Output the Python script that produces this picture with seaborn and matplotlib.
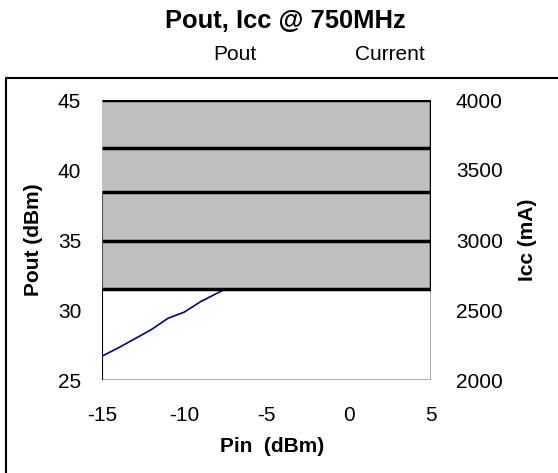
import numpy as np
import pandas as pd
import matplotlib
matplotlib.use("Agg")
import matplotlib.pyplot as plt
import seaborn as sns
from matplotlib.lines import Line2D
from matplotlib.patches import Rectangle

sns.set_style("white")
plt.rcParams["font.family"] = ["Liberation Sans", "DejaVu Sans"]
plt.rcParams["axes.unicode_minus"] = False
plt.rcParams["text.color"] = "black"
plt.rcParams["axes.labelcolor"] = "black"
plt.rcParams["xtick.color"] = "black"
plt.rcParams["ytick.color"] = "black"

# data
pin_dbm = [-15, -14, -13, -12, -11, -10, -9, -8, -7.5]
pout_dbm = [26.7, 27.3, 27.95, 28.6, 29.4, 29.85, 30.6, 31.2, 31.5]
pout_ticks = [25, 30, 35, 40, 45]
icc_ticks = [2000, 2500, 3000, 3500, 4000]
pin_ticks = [-15, -10, -5, 0, 5]
band_levels = [31.5, 34.95, 38.4, 41.6, 45]   # black rules over the grey block

FS = 15

df = pd.DataFrame({"Pin": pin_dbm, "Pout": pout_dbm})

fig = plt.figure(figsize=(5.58, 4.73), dpi=100)
ax = fig.add_axes([102 / 558, 1 - 380 / 473, 329 / 558, 280 / 473])

sns.lineplot(data=df, x="Pin", y="Pout", ax=ax, color="#000080", linewidth=1.2, zorder=2)

# grey block with black rules
ax.fill_between([pin_ticks[0], pin_ticks[-1]], band_levels[0], band_levels[-1],
                color="#c0c0c0", zorder=3, linewidth=0)
ax.hlines(band_levels, pin_ticks[0], pin_ticks[-1], color="black", linewidth=2.5, zorder=4)
ax.vlines(pin_ticks[-1], band_levels[0], band_levels[-1], color="black", linewidth=2.5, zorder=4)

# frame lines
ax.hlines(pout_ticks[0], pin_ticks[0], pin_ticks[-1], color="#a0a0a0", linewidth=1.2, zorder=1)
ax.vlines(pin_ticks[-1], pout_ticks[0], band_levels[0], color="#a0a0a0", linewidth=1.2, zorder=1)
ax.vlines(pin_ticks[0], pout_ticks[0], band_levels[0], color="black", linewidth=1.5, zorder=5)
ax.vlines(pin_ticks[0], band_levels[0], band_levels[2], color="#505050", linewidth=1.5, zorder=5)

ax.set_xlim(pin_ticks[0], pin_ticks[-1])
ax.set_ylim(pout_ticks[0], pout_ticks[-1])
ax.set_xticks(pin_ticks)
ax.set_yticks(pout_ticks)
for s in ax.spines.values():
    s.set_visible(False)
ax.tick_params(axis="both", length=0, labelsize=FS)
ax.tick_params(axis="y", pad=15)
ax.tick_params(axis="x", pad=19)
ax.set_xlabel("Pin  (dBm)", fontsize=FS, fontweight="bold")
ax.set_ylabel("Pout (dBm)", fontsize=FS, fontweight="bold")
ax.xaxis.set_label_coords(170 / 329, -66 / 280)
ax.xaxis.label.set_va("center")
ax.yaxis.set_label_coords(-69 / 329, 0.5)
ax.yaxis.label.set_va("center")

ax2 = ax.twinx()
ax2.set_ylim(icc_ticks[0], icc_ticks[-1])
ax2.set_yticks(icc_ticks)
for s in ax2.spines.values():
    s.set_visible(False)
ax2.tick_params(axis="y", length=0, labelsize=FS, pad=18)
ax2.set_ylabel("Icc (mA)", fontsize=FS, fontweight="bold")
ax2.yaxis.set_label_coords(426 / 329, 0.5)
ax2.yaxis.label.set_va("center")

ax.set_zorder(ax2.get_zorder() + 1)
ax.patch.set_visible(False)

fig.suptitle("Pout, Icc @ 750MHz", fontsize=18.4, fontweight="bold",
             x=285 / 558, y=1 - 21 / 473, va="center")

handles = [Line2D([], [], color="none"), Line2D([], [], color="none")]
fig.legend(handles, ["Pout", "Current"], loc="center", bbox_to_anchor=(319 / 558, 1 - 54 / 473),
           ncol=2, frameon=False, handlelength=0, handletextpad=0, columnspacing=4.7,
           fontsize=FS, borderpad=0)

# outer chart border
fig.patches.append(Rectangle((6 / 558, -0.05), 1.1, 1 - 78 / 473 + 0.05, transform=fig.transFigure,
                             fill=False, edgecolor="black", linewidth=1.5))

fig.savefig("out.png", dpi=100)
